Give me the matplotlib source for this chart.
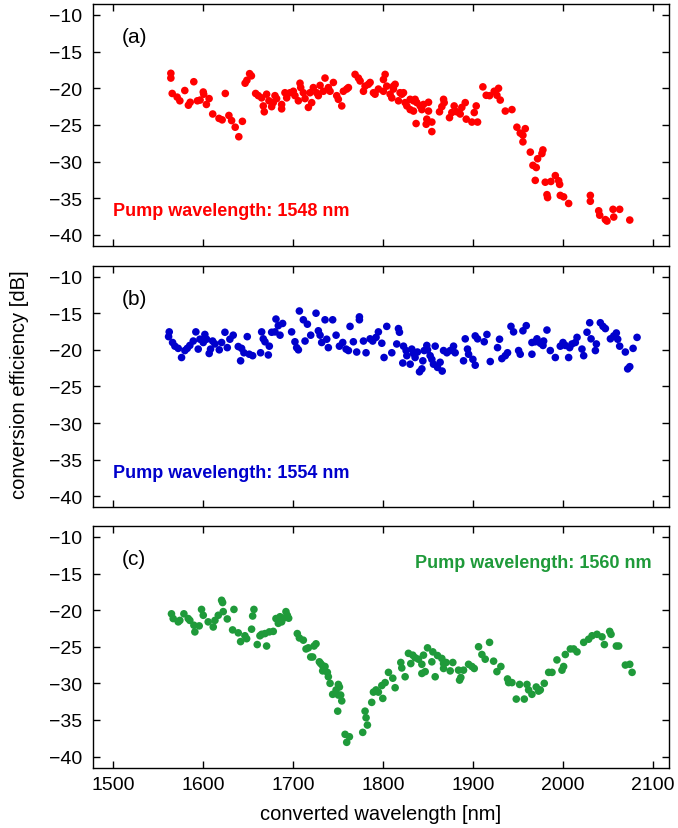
import matplotlib
matplotlib.use('Agg')
import matplotlib.pyplot as plt

plt.rcParams['font.family'] = ['Liberation Sans', 'DejaVu Sans']
plt.rcParams['font.size'] = 14

# (a) pump 1548 nm
wl_a = [1564.5, 1564.5, 1566.0, 1571.5, 1574.5, 1580.0, 1584.0, 1586.0, 1590.0, 1594.0,
        1597.0, 1600.5, 1601.0, 1604.0, 1607.0, 1611.0, 1618.0, 1621.5, 1625.0, 1629.0,
        1632.0, 1636.0, 1640.0, 1644.0, 1647.0, 1649.0, 1652.0, 1654.0, 1658.7, 1661.7,
        1665.4, 1667.2, 1668.3, 1670.9, 1673.5, 1676.5, 1678.3, 1680.2, 1682.0, 1687.6,
        1687.6, 1691.3, 1693.2, 1696.9, 1700.6, 1702.4, 1706.2, 1708.0, 1708.8, 1711.7,
        1713.6, 1717.3, 1719.1, 1721.0, 1722.8, 1726.5, 1728.4, 1730.3, 1734.0, 1735.8,
        1739.5, 1741.4, 1745.1, 1748.8, 1750.6, 1754.4, 1756.2, 1759.9, 1761.8, 1769.2,
        1772.9, 1774.8, 1778.5, 1780.3, 1784.0, 1785.9, 1789.6, 1791.4, 1795.1, 1800.7,
        1802.6, 1804.4, 1800.7, 1808.1, 1810.0, 1811.8, 1813.7, 1811.8, 1817.4, 1819.2,
        1823.0, 1821.1, 1824.8, 1826.7, 1830.4, 1830.4, 1834.1, 1835.9, 1837.8, 1834.1,
        1841.5, 1843.4, 1845.2, 1850.8, 1850.8, 1837.0, 1848.9, 1848.2, 1854.5, 1854.5,
        1863.0, 1865.6, 1867.5, 1868.2, 1874.1, 1876.7, 1879.3, 1882.3, 1886.0, 1887.8,
        1891.6, 1892.7, 1899.0, 1901.6, 1903.8, 1905.3, 1911.2, 1914.9, 1918.6, 1923.8,
        1928.6, 1926.8, 1930.5, 1936.1, 1943.5, 1949.0, 1952.7, 1955.7, 1958.3, 1955.7,
        1963.9, 1966.8, 1970.5, 1972.0, 1976.8, 1977.9, 1969.4, 1980.5, 1986.8, 1991.7,
        1995.4, 1996.5, 1982.4, 1983.1, 1997.2, 2000.9, 2006.5, 2030.6, 2030.6, 2039.9,
        2041.0, 2047.3, 2049.1, 2056.6, 2055.8, 2063.2, 2074.4]
ce_a = [-17.95, -18.6, -20.7, -21.2, -21.7, -20.3, -22.3, -21.9, -19.1, -21.7,
        -21.6, -20.5, -20.8, -22.2, -21.4, -23.5, -24.1, -24.3, -20.7, -23.7,
        -24.4, -25.3, -26.6, -24.5, -19.3, -18.9, -18.0, -18.3, -20.7, -21.0,
        -21.3, -22.4, -23.2, -20.8, -21.7, -22.5, -21.95, -21.0, -21.4, -22.2,
        -22.8, -20.6, -21.3, -20.6, -20.4, -21.0, -21.7, -19.3, -19.9, -20.6,
        -21.4, -22.6, -20.6, -21.95, -19.9, -20.6, -21.0, -19.6, -20.4, -18.6,
        -19.9, -20.4, -19.2, -21.0, -21.5, -22.4, -20.4, -20.1, -19.9, -18.1,
        -18.6, -19.0, -20.4, -19.7, -19.45, -19.2, -20.6, -20.8, -20.1, -18.8,
        -18.1, -19.7, -20.4, -20.8, -21.3, -19.7, -19.45, -20.1, -21.7, -20.6,
        -20.6, -20.8, -21.95, -22.4, -22.9, -21.5, -21.7, -21.5, -21.95, -23.1,
        -22.4, -22.9, -22.2, -21.9, -23.1, -24.8, -24.2, -24.9, -24.6, -25.9,
        -23.2, -22.5, -21.5, -21.95, -24.0, -23.3, -22.4, -23.2, -23.5, -22.6,
        -21.95, -24.2, -24.6, -23.3, -22.4, -24.6, -19.8, -20.95, -21.0, -20.4,
        -20.0, -20.95, -21.6, -23.1, -22.9, -25.3, -26.1, -26.4, -25.5, -27.3,
        -28.7, -30.5, -30.8, -29.6, -28.9, -28.4, -32.55, -32.8, -32.7, -31.9,
        -32.6, -33.1, -34.5, -34.9, -34.6, -34.8, -35.7, -34.6, -35.4, -36.7,
        -37.3, -37.9, -38.1, -37.55, -36.5, -36.5, -37.96]

# (b) pump 1554 nm
wl_b = [1562.7, 1562.0, 1566.4, 1569.0, 1572.7, 1576.4, 1580.1, 1582.7, 1585.6, 1589.4,
        1592.3, 1594.9, 1596.8, 1600.5, 1602.3, 1604.2, 1607.1, 1608.6, 1610.9, 1613.5,
        1618.3, 1620.9, 1624.6, 1627.2, 1630.1, 1633.8, 1639.4, 1643.1, 1642.0, 1645.7,
        1649.4, 1651.6, 1655.4, 1664.2, 1665.4, 1667.2, 1669.1, 1672.8, 1673.9, 1676.5,
        1680.2, 1681.3, 1683.9, 1685.8, 1688.7, 1698.7, 1702.4, 1704.3, 1706.2, 1707.3,
        1711.7, 1716.2, 1713.6, 1719.9, 1725.8, 1728.4, 1730.3, 1732.1, 1735.8, 1737.7,
        1739.5, 1744.3, 1748.1, 1751.8, 1755.5, 1759.2, 1761.8, 1763.6, 1767.3, 1771.0,
        1774.0, 1774.0, 1778.5, 1781.4, 1785.9, 1788.8, 1792.5, 1795.1, 1798.9, 1801.4,
        1804.4, 1810.0, 1815.5, 1817.4, 1818.5, 1823.0, 1822.2, 1825.9, 1826.7, 1830.4,
        1832.2, 1834.1, 1835.9, 1838.5, 1840.8, 1843.4, 1844.5, 1846.0, 1848.9, 1849.7,
        1852.6, 1854.5, 1856.3, 1858.2, 1860.8, 1863.7, 1866.0, 1867.5, 1871.2, 1874.9,
        1878.6, 1880.4, 1889.7, 1891.6, 1894.1, 1895.3, 1900.1, 1902.7, 1902.7, 1905.3,
        1912.7, 1915.7, 1919.4, 1927.5, 1929.7, 1932.3, 1936.1, 1938.6, 1942.4, 1945.3,
        1950.9, 1952.7, 1955.7, 1959.4, 1965.7, 1965.7, 1969.4, 1971.3, 1975.0, 1978.0,
        1978.7, 1982.4, 1986.1, 1991.7, 1997.2, 2000.2, 2002.8, 2006.5, 2007.6, 2010.2,
        2013.9, 2015.8, 2021.3, 2023.2, 2026.9, 2029.9, 2031.4, 2036.2, 2037.3, 2041.7,
        2044.7, 2047.3, 2052.9, 2056.6, 2059.5, 2061.0, 2063.2, 2069.5, 2072.1, 2074.4,
        2078.1, 2082.5]
ce_b = [-17.55, -18.2, -19.0, -19.5, -19.8, -21.05, -20.1, -19.8, -19.4, -18.8,
        -17.55, -19.9, -18.55, -19.0, -17.9, -18.55, -20.5, -19.9, -18.8, -19.2,
        -20.0, -19.0, -17.6, -19.7, -18.55, -18.0, -19.55, -19.8, -21.5, -20.4,
        -18.2, -20.6, -20.8, -20.4, -17.55, -18.5, -18.9, -20.7, -19.5, -17.6,
        -17.55, -15.8, -16.7, -18.0, -16.4, -17.55, -18.9, -19.7, -20.0, -14.7,
        -15.9, -16.5, -18.8, -18.0, -15.0, -17.4, -18.0, -19.0, -15.9, -18.55,
        -19.7, -15.9, -18.0, -19.5, -19.0, -19.9, -20.1, -16.8, -18.9, -20.3,
        -15.5, -15.9, -18.8, -20.4, -18.5, -18.8, -18.3, -17.55, -19.1, -21.05,
        -16.8, -20.4, -19.2, -17.1, -17.6, -19.5, -21.8, -20.1, -20.8, -21.96,
        -19.9, -20.5, -21.05, -20.3, -23.0, -22.6, -21.5, -20.1, -19.4, -20.0,
        -20.8, -21.3, -21.96, -19.5, -22.4, -21.7, -22.9, -20.1, -20.4, -20.1,
        -19.5, -20.4, -21.5, -18.5, -19.9, -20.6, -21.3, -22.1, -18.1, -18.5,
        -18.9, -17.9, -21.6, -19.7, -18.55, -21.2, -20.8, -20.4, -16.8, -17.55,
        -20.1, -20.6, -17.4, -16.7, -20.6, -19.0, -18.9, -18.5, -19.1, -19.4,
        -18.8, -17.3, -20.1, -21.05, -19.5, -19.0, -19.4, -21.05, -19.7, -19.2,
        -19.0, -18.3, -19.9, -20.8, -17.6, -16.3, -18.5, -20.1, -19.2, -16.3,
        -16.8, -17.1, -18.5, -18.1, -17.7, -18.55, -19.5, -20.3, -22.6, -22.3,
        -19.8, -18.3]

# (c) pump 1560 nm
wl_c = [1565.2, 1567.1, 1572.7, 1574.5, 1579.0, 1583.8, 1585.6, 1590.1, 1591.2, 1596.0,
        1598.6, 1600.5, 1606.0, 1611.6, 1613.5, 1617.2, 1620.9, 1622.0, 1622.7, 1627.2,
        1634.6, 1633.1, 1639.4, 1642.0, 1646.8, 1648.7, 1654.2, 1655.4, 1656.8, 1660.5,
        1663.5, 1665.4, 1669.1, 1670.9, 1673.9, 1678.3, 1681.3, 1683.9, 1685.8, 1687.6,
        1689.5, 1692.4, 1693.9, 1695.4, 1705.0, 1707.3, 1711.7, 1714.7, 1717.3, 1719.9,
        1722.1, 1723.6, 1725.8, 1729.5, 1731.0, 1733.2, 1733.2, 1735.8, 1738.4, 1739.5,
        1741.4, 1744.3, 1748.1, 1750.6, 1751.8, 1750.6, 1753.2, 1754.4, 1749.9, 1758.1,
        1759.9, 1762.9, 1777.7, 1780.3, 1781.4, 1782.9, 1787.7, 1789.6, 1792.5, 1795.1,
        1800.0, 1798.9, 1802.6, 1806.3, 1811.1, 1813.7, 1820.0, 1821.1, 1824.8, 1828.5,
        1831.1, 1833.3, 1835.9, 1839.6, 1843.4, 1843.4, 1845.2, 1847.1, 1849.7, 1854.5,
        1855.6, 1858.2, 1860.8, 1865.6, 1867.5, 1867.5, 1870.4, 1874.9, 1877.8, 1884.1,
        1885.3, 1886.7, 1889.7, 1895.3, 1899.0, 1901.6, 1906.4, 1910.1, 1913.8, 1918.6,
        1923.1, 1926.8, 1931.2, 1938.6, 1939.8, 1943.5, 1948.3, 1952.0, 1957.2, 1960.2,
        1962.0, 1965.7, 1970.5, 1973.1, 1975.0, 1979.4, 1984.3, 1988.0, 1993.5, 1999.1,
        2000.9, 2002.8, 2008.4, 2012.1, 2015.8, 2023.2, 2028.7, 2032.5, 2038.0, 2043.6,
        2046.2, 2052.1, 2053.6, 2059.5, 2062.1, 2069.5, 2074.4, 2077.0]
ce_c = [-20.5, -21.15, -21.6, -21.4, -20.5, -21.15, -21.4, -22.06, -22.97, -22.15,
        -19.9, -20.7, -21.6, -22.3, -21.4, -20.7, -18.65, -18.96, -20.2, -21.2,
        -19.9, -22.7, -23.1, -24.3, -23.5, -23.9, -22.6, -20.8, -19.9, -24.7,
        -23.5, -23.3, -23.2, -24.9, -22.97, -22.9, -21.15, -21.8, -20.9, -21.6,
        -21.1, -20.2, -20.7, -21.1, -23.2, -23.8, -24.1, -25.3, -25.15, -26.4,
        -26.4, -24.9, -24.6, -27.06, -27.3, -27.6, -28.3, -27.7, -28.5, -29.1,
        -30.0, -31.5, -30.9, -30.15, -30.5, -31.6, -31.6, -32.4, -33.8, -36.97,
        -38.06, -37.3, -36.7, -33.8, -34.7, -35.7, -32.6, -31.2, -30.9, -31.2,
        -32.06, -30.3, -29.9, -28.5, -29.3, -30.6, -27.15, -27.9, -29.1, -25.9,
        -27.3, -26.15, -26.5, -26.7, -27.4, -28.65, -26.15, -28.4, -25.15, -27.06,
        -25.7, -29.1, -26.2, -26.6, -27.3, -27.97, -27.15, -28.3, -27.15, -28.2,
        -29.56, -29.2, -28.2, -27.4, -27.7, -27.97, -25.0, -26.06, -26.7, -24.4,
        -26.97, -28.4, -27.7, -29.4, -29.9, -29.9, -32.15, -30.15, -32.15, -30.15,
        -30.9, -31.5, -30.5, -31.06, -30.9, -30.0, -28.5, -28.5, -26.8, -28.2,
        -27.7, -26.06, -25.3, -25.3, -25.7, -24.4, -23.97, -23.5, -23.3, -23.65,
        -24.7, -22.9, -23.3, -24.9, -24.9, -27.5, -27.4, -28.5]

panel_tags = ['(a)', '(b)', '(c)']
pump_labels = ['Pump wavelength: 1548 nm', 'Pump wavelength: 1554 nm', 'Pump wavelength: 1560 nm']
colors = ['#ff0000', '#0000cc', '#1f9a3a']
x_ticks = [1500, 1600, 1700, 1800, 1900, 2000, 2100]
y_ticks = [-10, -15, -20, -25, -30, -35, -40]

fig = plt.figure(figsize=(6.78, 8.29), dpi=100)
W, H = 678, 829
left, right = 93, 669
# (top, bottom) in pixels for each panel
boxes = [(5, 247), (266.6, 508.3), (527, 768.5)]

data = [(wl_a, ce_a), (wl_b, ce_b), (wl_c, ce_c)]
axes = []
for i, (top, bot) in enumerate(boxes):
    ax = fig.add_axes([left / W, 1 - bot / H, (right - left) / W, (bot - top) / H])
    axes.append(ax)
    wl, ce = data[i]
    ax.scatter(wl, ce, s=30, color=colors[i], edgecolors='none', zorder=3)
    ax.set_xlim(1478, 2118)
    ax.set_ylim(-41.5, -8.5)
    ax.set_xticks(x_ticks)
    ax.set_yticks(y_ticks)
    ax.tick_params(direction='in', top=True, right=True, length=5, width=1,
                   labelsize=14, pad=8, colors='black')
    ax.tick_params(axis='x', pad=6)
    for s in ax.spines.values():
        s.set_linewidth(1.0)
    if i < 2:
        ax.tick_params(labelbottom=False)
    ax.text(0.05, 0.865, panel_tags[i], transform=ax.transAxes, fontsize=15,
            va='center', ha='left')

axes[0].text(0.035, 0.145, pump_labels[0], transform=axes[0].transAxes, color=colors[0],
             fontsize=13, fontweight='bold', va='center', ha='left')
axes[1].text(0.035, 0.145, pump_labels[1], transform=axes[1].transAxes, color=colors[1],
             fontsize=13, fontweight='bold', va='center', ha='left')
axes[2].text(0.970, 0.85, pump_labels[2], transform=axes[2].transAxes, color=colors[2],
             fontsize=13, fontweight='bold', va='center', ha='right')

axes[2].set_xlabel('converted wavelength [nm]', fontsize=14.5, labelpad=8)
fig.text(20 / W, 1 - 385 / H, 'conversion efficiency [dB]', rotation=90,
         fontsize=14.5, va='center', ha='center')

fig.savefig('out.png', dpi=100)
